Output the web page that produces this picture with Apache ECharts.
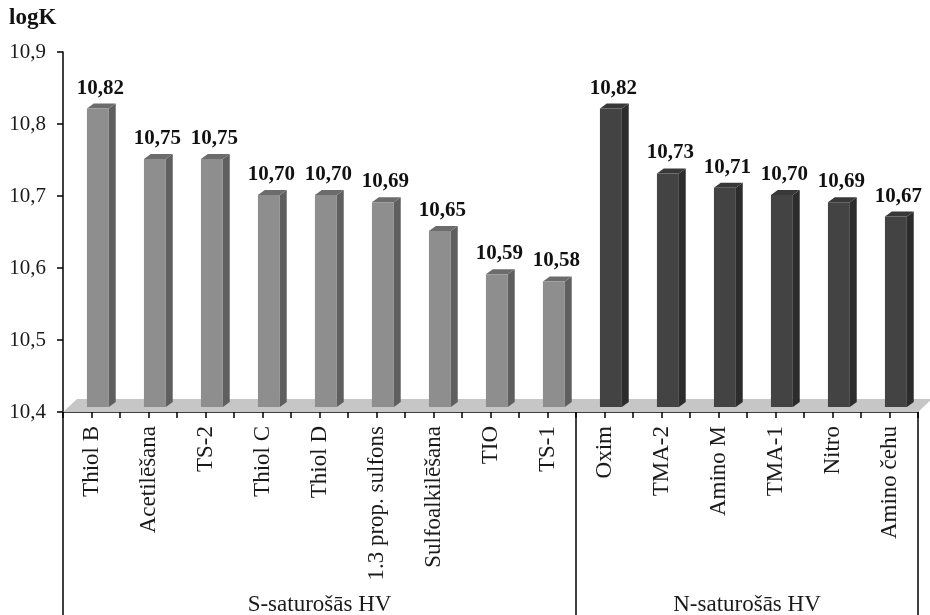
<!DOCTYPE html>
<html><head><meta charset="utf-8">
<script src="https://cdn.jsdelivr.net/npm/echarts@6/dist/echarts.min.js"></script>
<style>html,body{margin:0;padding:0;background:#fff}#c{width:930px;height:615px}</style>
</head><body><div id="c"></div>
<script>
const sNames = ['Thiol B','Acetilēšana','TS-2','Thiol C','Thiol D','1.3 prop. sulfons','Sulfoalkilēšana','TIO','TS-1'];
const sValues = [10.82,10.75,10.75,10.70,10.70,10.69,10.65,10.59,10.58];
const nNames = ['Oxim','TMA-2','Amino M','TMA-1','Nitro','Amino čehu'];
const nValues = [10.82,10.73,10.71,10.70,10.69,10.67];
const groupNames = ['S-saturošās HV','N-saturošās HV'];
const yMin = 10.4, yMax = 10.9, yStep = 0.1;
const yTitle = 'logK';

const categories = sNames.concat(nNames);
const halfTicks = [];
categories.forEach(c => { halfTicks.push(c + 'a'); halfTicks.push(c + 'b'); });
const fmt = v => v.toFixed(2).replace('.', ',');
const SERIF = '"Liberation Serif","Times New Roman",serif';

function makeBarRender(front, side, top) {
  return function (params, api) {
    const idx = api.value(0), v = api.value(1);
    const pt = api.coord([idx, v]);
    const base = api.coord([idx, yMin]);
    const bw = api.size([1, 0])[0];
    const fw = bw * 0.385, dx = bw * 0.12, dy = 5;
    const x0 = pt[0] - bw * 0.08, x1 = x0 + fw;
    const yt = pt[1] - 1, yb = base[1] - 5;
    return {
      type: 'group',
      children: [
        { type: 'polygon', shape: { points: [[x1, yt], [x1 + dx, yt - dy], [x1 + dx, yb - dy], [x1, yb]] }, style: { fill: side } },
        { type: 'polygon', shape: { points: [[x0, yt], [x1, yt], [x1 + dx, yt - dy], [x0 + dx, yt - dy]] }, style: { fill: top } },
        { type: 'rect', shape: { x: x0, y: yt, width: fw, height: yb - yt }, style: { fill: front } },
        { type: 'text', style: { text: fmt(v), x: (x0 + x1 + dx) / 2 - 1, y: yt - dy - 5, align: 'center', verticalAlign: 'bottom', font: 'bold 21px ' + SERIF, fill: '#111' } }
      ]
    };
  };
}

const chart = echarts.init(document.getElementById('c'));
chart.setOption({
  animation: false,
  grid: { left: 63, right: 12, top: 52, bottom: 203, containLabel: false },
  xAxis: [{
    type: 'category', data: categories, boundaryGap: true,
    axisLine: { show: true, lineStyle: { color: '#000', width: 1.5 } },
    axisTick: { show: false },
    axisLabel: { interval: 0, rotate: 90, margin: 14, fontFamily: SERIF, fontSize: 23, color: '#1a1a1a' }
  }, {
    type: 'category', data: halfTicks, boundaryGap: true, position: 'bottom',
    axisLine: { show: false },
    axisTick: { show: true, interval: 0, length: 6, lineStyle: { color: '#000', width: 1.5 } },
    axisLabel: { show: false }
  }],
  yAxis: {
    type: 'value', min: yMin, max: yMax, interval: yStep,
    axisLine: { show: true, lineStyle: { color: '#000', width: 1.5 } },
    axisTick: { show: true, length: 6, lineStyle: { color: '#000', width: 1.5 } },
    splitLine: { show: false },
    axisLabel: { margin: 17, fontFamily: SERIF, fontSize: 21, color: '#1a1a1a', formatter: v => v.toFixed(1).replace('.', ',') }
  },
  series: [{
    type: 'custom', z: 1, xAxisIndex: 0,
    data: [[0, yMin]],
    renderItem: function (params, api) {
      const cs = params.coordSys;
      const yb = cs.y + cs.height, x0 = cs.x, x1 = cs.x + cs.width;
      return { type: 'polygon', shape: { points: [[x0, yb], [x1, yb], [x1 + 14, yb - 13], [x0 + 14, yb - 13]] }, style: { fill: '#c6c6c6' } };
    }
  }, {
    type: 'custom', z: 2, xAxisIndex: 0,
    data: sValues.map((v, i) => [i, v]),
    renderItem: makeBarRender('#8e8e8e', '#5f5f5f', '#6c6c6c')
  }, {
    type: 'custom', z: 2, xAxisIndex: 0,
    data: nValues.map((v, i) => [sNames.length + i, v]),
    renderItem: makeBarRender('#434343', '#2c2c2c', '#383838')
  }]
});

const px = i => chart.convertToPixel({ xAxisIndex: 0 }, i);
const bw = px(1) - px(0);
const yBase = chart.convertToPixel({ yAxisIndex: 0 }, yMin);
const xl = px(0) - bw / 2;
const xs = (px(sNames.length - 1) + px(sNames.length)) / 2;
const xr = px(categories.length - 1) + bw / 2;
const ln = x => ({ type: 'line', shape: { x1: x, y1: yBase, x2: x, y2: 615 }, style: { stroke: '#000', lineWidth: 1.5 } });
chart.setOption({
  graphic: [
    ln(xl), ln(xs), ln(xr),
    { type: 'text', left: 9, top: 7, style: { text: yTitle, font: 'bold 23px ' + SERIF, fill: '#111' } },
    { type: 'text', x: (xl + xs) / 2, y: 605, style: { text: groupNames[0], font: '23px ' + SERIF, fill: '#1a1a1a', align: 'center', verticalAlign: 'middle' } },
    { type: 'text', x: (xs + xr) / 2, y: 605, style: { text: groupNames[1], font: '23px ' + SERIF, fill: '#1a1a1a', align: 'center', verticalAlign: 'middle' } }
  ]
});
</script></body></html>
